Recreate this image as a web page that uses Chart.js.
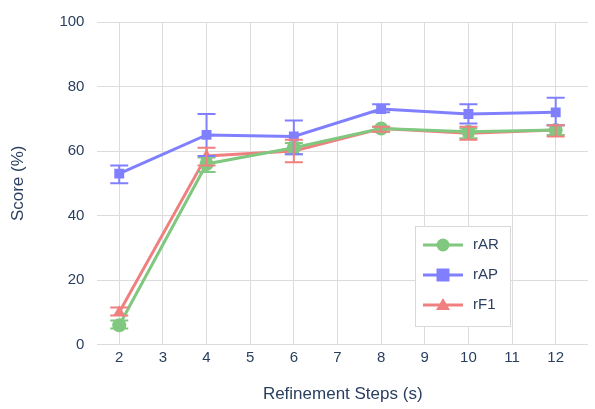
<!DOCTYPE html>
<html><head>
<script src="https://cdn.jsdelivr.net/npm/chart.js@4"></script>
<style>body{margin:0;background:#fff}#wrap{width:595px;height:409px}</style>
</head><body>
<div id="wrap"><canvas id="c"></canvas></div>
<script>
// ---- data ----
const steps = [2, 4, 6, 8, 10, 12];
const xTicks = [2, 3, 4, 5, 6, 7, 8, 9, 10, 11, 12];
const rAR = [6, 56, 61, 67, 66, 66.5];
const rARLo = [5, 53.5, 59, 66, 64, 65];
const rARHi = [7.5, 58, 62.5, 67.5, 67, 68];
const rAP = [53, 65, 64.5, 73, 71.5, 72];
const rAPLo = [50, 58.5, 59, 72, 68.5, 68];
const rAPHi = [55.5, 71.5, 69.5, 74.5, 74.5, 76.5];
const rF1 = [10, 58.5, 60, 67, 65.5, 66.5];
const rF1Lo = [9, 55.5, 56.5, 66, 63.5, 64.5];
const rF1Hi = [11.5, 61, 63.5, 67.5, 67.5, 68];

const font = "Arial, 'Liberation Sans', sans-serif";
const txt = "#2a3f5f";

function pts(ys) { return steps.map((s, i) => ({ x: s, y: ys[i] })); }

const series = [
  { label: "rAR", data: rAR, lo: rARLo, hi: rARHi, color: "#80c880", style: "circle" },
  { label: "rAP", data: rAP, lo: rAPLo, hi: rAPHi, color: "#8080ff", style: "rect" },
  { label: "rF1", data: rF1, lo: rF1Lo, hi: rF1Hi, color: "#f08080", style: "triangle" }
];

// error bars
const errorBars = {
  id: "errorBars",
  afterDatasetsDraw(chart) {
    const { ctx, scales: { x, y } } = chart;
    ctx.save();
    ctx.lineWidth = 2;
    series.forEach(s => {
      ctx.strokeStyle = s.color;
      steps.forEach((st, i) => {
        const px = x.getPixelForValue(st);
        const y1 = y.getPixelForValue(s.lo[i]);
        const y2 = y.getPixelForValue(s.hi[i]);
        ctx.beginPath();
        ctx.moveTo(px, y1); ctx.lineTo(px, y2);
        ctx.moveTo(px - 9, y1); ctx.lineTo(px + 9, y1);
        ctx.moveTo(px - 9, y2); ctx.lineTo(px + 9, y2);
        ctx.stroke();
      });
    });
    ctx.restore();
  }
};

// legend box in the lower right
const boxLegend = {
  id: "boxLegend",
  afterDraw(chart) {
    const { ctx } = chart;
    ctx.save();
    ctx.fillStyle = "#fff";
    ctx.strokeStyle = "#d8d8d8";
    ctx.lineWidth = 1;
    ctx.fillRect(415, 226, 95, 100);
    ctx.strokeRect(415.5, 226.5, 95, 100);
    series.forEach((s, i) => {
      const yy = 245 + i * 30;
      ctx.strokeStyle = s.color;
      ctx.lineWidth = 3;
      ctx.beginPath(); ctx.moveTo(423, yy); ctx.lineTo(463, yy); ctx.stroke();
      ctx.fillStyle = s.color;
      ctx.beginPath();
      if (s.style === "circle") ctx.arc(443, yy, 6.5, 0, Math.PI * 2);
      else if (s.style === "rect") ctx.rect(436.5, yy - 6.5, 13, 13);
      else { ctx.moveTo(443, yy - 7); ctx.lineTo(450, yy + 5); ctx.lineTo(436, yy + 5); ctx.closePath(); }
      ctx.fill();
      ctx.fillStyle = txt;
      ctx.font = "15px " + font;
      ctx.textBaseline = "middle";
      ctx.fillText(s.label, 473, yy);
    });
    ctx.restore();
  }
};

new Chart(document.getElementById("c"), {
  type: "line",
  data: {
    datasets: series.map(s => ({
      label: s.label,
      data: pts(s.data),
      borderColor: s.color,
      backgroundColor: s.color,
      borderWidth: 3,
      pointStyle: s.style,
      pointRadius: 7,
      pointBorderWidth: 0,
      tension: 0
    }))
  },
  options: {
    responsive: true,
    maintainAspectRatio: false,
    animation: false,
    layout: { padding: { left: 4, right: 5, top: 0, bottom: 0 } },
    plugins: { legend: { display: false }, tooltip: { enabled: false } },
    scales: {
      x: {
        type: "linear", min: 1.5, max: 12.74,
        afterBuildTicks: a => { a.ticks = xTicks.map(v => ({ value: v })); },
        ticks: { color: txt, font: { size: 15, family: font }, padding: 4 },
        grid: { color: "#dcdcdc", drawTicks: false },
        border: { display: false },
        title: { display: true, text: "Refinement Steps (s)", color: txt, font: { size: 17, family: font }, padding: { top: 14 } }
      },
      y: {
        min: 0, max: 100,
        ticks: { stepSize: 20, color: txt, font: { size: 15, family: font }, padding: 13 },
        grid: { color: "#dcdcdc", drawTicks: false },
        border: { display: false },
        title: { display: true, text: "Score (%)", color: txt, font: { size: 17, family: font }, padding: { bottom: 18 } }
      }
    }
  },
  plugins: [errorBars, boxLegend]
});
</script>
</body></html>
